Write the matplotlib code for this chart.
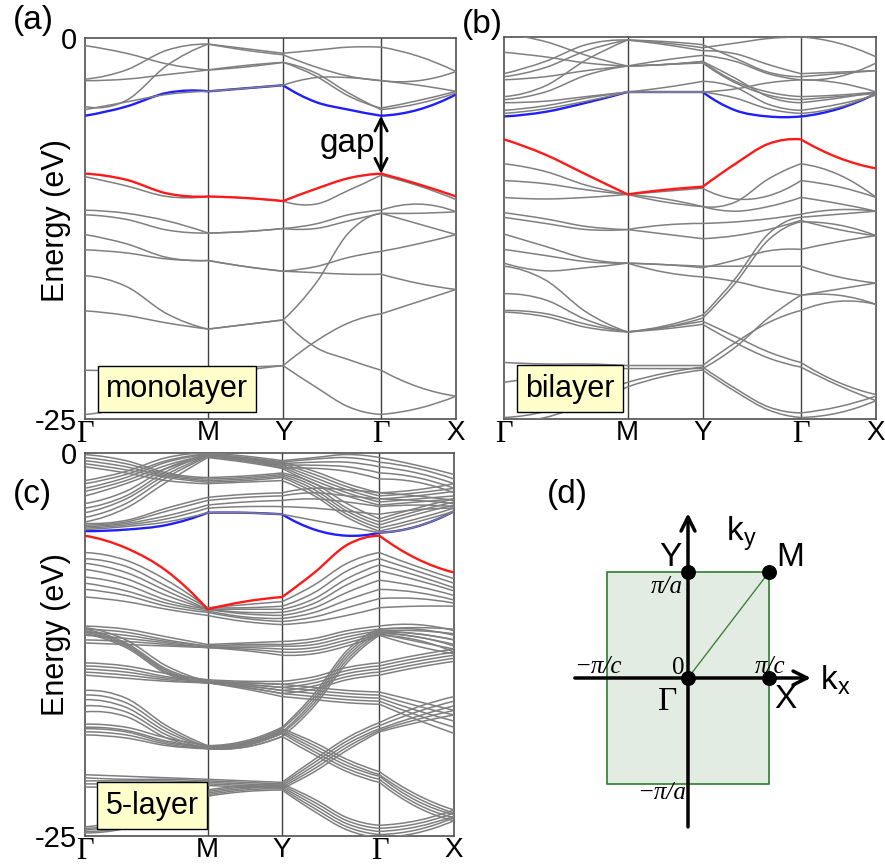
import numpy as np
import matplotlib
matplotlib.use('Agg')
import matplotlib.pyplot as plt
from matplotlib.path import Path
from matplotlib.patches import PathPatch, Rectangle

plt.rcParams['font.family'] = ['Liberation Sans', 'DejaVu Sans']

# k path: sample points along Γ-M-Y-Γ-X (high symmetry points at node_index)
k_points = [0.0, 0.111, 0.221, 0.332, 0.433, 0.534, 0.622, 0.710, 0.798, 0.899, 1.0]
node_index = [0, 3, 5, 8, 10]
k_labels = ['Γ', 'M', 'Y', 'Γ', 'X']

# ---- (a) monolayer, energies in eV at k_points ----
mono_gray = [
    [-0.5, -1.0, -1.7, -2.1, -1.9, -1.6, -2.5, -3.8, -4.6, -4.1, -3.5],
    [-2.7, -2.1, -0.8, -0.4, -0.7, -1.0, -0.8, -0.6, -0.6, -1.2, -2.2],
    [-2.8, -2.7, -2.4, -2.1, -1.8, -1.6, -2.3, -3.6, -4.7, -4.3, -3.6],
    [-4.5, -4.1, -1.8, -0.4, -0.8, -1.1, -1.9, -2.5, -2.8, -2.8, -2.2],
    [-4.7, -4.2, -3.7, -3.5, -3.3, -3.1, -2.6, -2.6, -2.8, -3.1, -3.5],
    [-9.1, -9.7, -10.4, -10.4, -10.5, -10.7, -10.9, -10.0, -9.0, -9.7, -10.6],
    [-11.3, -11.5, -12.0, -12.8, -12.7, -12.5, -12.2, -11.6, -11.3, -10.9, -11.4],
    [-11.6, -11.9, -12.6, -12.8, -12.7, -12.5, -12.5, -12.0, -11.5, -12.2, -12.9],
    [-12.9, -13.5, -14.4, -14.6, -15.0, -15.3, -15.4, -15.5, -15.5, -16.1, -16.5],
    [-13.9, -14.1, -14.5, -14.6, -15.0, -15.3, -15.0, -14.4, -14.0, -13.5, -12.9],
    [-15.6, -16.3, -18.1, -19.1, -18.8, -18.5, -16.1, -12.8, -11.5, -11.5, -11.4],
    [-17.9, -18.2, -18.7, -19.1, -18.8, -18.5, -20.3, -21.1, -21.8, -22.9, -23.5],
    [-21.8, -21.8, -21.7, -21.7, -21.6, -21.5, -19.9, -18.7, -18.1, -17.3, -16.5],
    [-24.7, -24.2, -23.1, -22.2, -21.8, -21.5, -22.9, -24.2, -24.7, -24.3, -23.5],
]
mono_blue = [-5.1, -4.5, -3.6, -3.5, -3.3, -3.1, -4.2, -4.7, -5.1, -4.7, -3.7]
mono_red = [-8.9, -9.3, -10.2, -10.4, -10.5, -10.7, -9.9, -9.2, -8.9, -9.6, -10.4]

# ---- (b) bilayer ----
bi_gray = [
    [0.2, -0.3, -1.2, -1.9, -1.8, -1.6, -2.9, -3.6, -3.9, -3.8, -3.6],
    [-1.0, -1.3, -1.7, -1.9, -1.8, -1.7, -3.0, -3.8, -4.1, -3.9, -3.7],
    [-2.4, -1.6, -0.5, -0.2, -0.4, -0.7, -0.4, -0.1, 0.0, -0.4, -1.3],
    [-2.6, -2.0, -0.9, -0.2, -0.5, -0.9, -1.1, -1.8, -2.4, -2.3, -2.2],
    [-2.8, -2.6, -2.2, -1.9, -1.8, -1.6, -2.7, -3.9, -4.3, -4.0, -3.6],
    [-3.9, -3.2, -1.5, -0.2, -0.3, -0.5, -1.4, -2.3, -2.6, -2.4, -2.2],
    [-4.1, -3.6, -2.5, -1.9, -1.5, -1.2, -1.6, -2.4, -2.8, -2.6, -1.7],
    [-4.3, -4.2, -3.9, -3.6, -3.3, -2.9, -3.3, -4.4, -4.8, -4.4, -3.8],
    [-4.8, -4.5, -4.0, -3.6, -3.6, -3.6, -3.4, -3.0, -2.8, -3.0, -3.6],
    [-5.0, -4.7, -4.2, -3.6, -3.6, -3.6, -4.0, -4.7, -5.0, -4.6, -3.7],
    [-8.3, -8.8, -9.7, -10.3, -10.8, -11.1, -10.8, -9.3, -8.3, -9.0, -10.5],
    [-9.4, -9.6, -10.0, -10.3, -10.1, -9.9, -10.6, -10.4, -9.4, -9.8, -10.5],
    [-10.5, -10.6, -10.5, -10.3, -10.6, -11.1, -11.4, -11.1, -10.5, -10.9, -11.4],
    [-11.5, -11.9, -12.4, -12.6, -12.3, -12.2, -12.1, -11.9, -11.6, -11.3, -11.4],
    [-11.8, -12.2, -12.6, -12.6, -12.9, -13.2, -13.0, -12.6, -12.0, -12.6, -13.0],
    [-12.9, -13.7, -14.5, -14.8, -14.9, -15.0, -15.0, -15.0, -15.0, -15.7, -16.1],
    [-13.9, -14.3, -14.7, -14.8, -14.9, -15.1, -14.6, -14.0, -13.9, -13.4, -13.0],
    [-14.8, -15.3, -15.1, -14.8, -15.4, -15.7, -16.0, -16.5, -16.9, -16.9, -17.5],
    [-15.0, -15.9, -18.0, -19.3, -18.9, -18.2, -15.8, -12.9, -11.8, -11.6, -11.4],
    [-16.8, -17.2, -18.5, -19.3, -19.0, -18.4, -16.1, -13.3, -12.1, -12.3, -13.0],
    [-17.9, -18.1, -18.8, -19.3, -19.0, -18.6, -19.6, -20.6, -21.3, -22.6, -23.4],
    [-18.0, -18.3, -19.0, -19.3, -19.1, -18.8, -20.0, -21.0, -21.6, -22.8, -23.8],
    [-21.3, -21.4, -21.4, -21.5, -21.5, -21.5, -20.0, -18.7, -17.9, -17.3, -17.5],
    [-22.6, -22.2, -21.8, -21.7, -21.7, -21.7, -20.3, -18.4, -16.9, -16.5, -16.1],
    [-24.9, -24.5, -23.5, -22.6, -22.0, -21.6, -23.0, -24.2, -24.6, -24.2, -23.5],
    [-25.2, -24.9, -24.0, -22.9, -22.2, -21.8, -23.2, -24.4, -24.9, -24.6, -23.8],
]
bi_blue = [-5.2, -4.9, -4.3, -3.6, -3.6, -3.6, -4.8, -5.2, -5.2, -4.7, -3.7]
bi_red = [-6.7, -7.7, -9.0, -10.3, -10.0, -9.8, -8.3, -7.0, -6.7, -7.9, -8.6]

# ---- (c) 5-layer, bands come in bundles ----
five_top_a = [
    [-0.1, -0.5, -1.3, -1.6, -1.5, -1.3, -2.0, -3.3, -4.3, -3.6, -3.0],
    [-0.3, -0.7, -1.4, -1.7, -1.6, -1.4, -2.2, -3.6, -4.5, -3.8, -3.2],
    [-0.5, -0.9, -1.5, -1.8, -1.7, -1.5, -2.4, -3.8, -4.7, -4.0, -3.4],
    [-0.7, -1.1, -1.6, -1.9, -1.8, -1.6, -2.6, -4.0, -4.9, -4.3, -3.6],
    [-0.9, -1.3, -1.8, -2.0, -1.9, -1.8, -2.8, -4.2, -5.1, -4.5, -3.8],
]
five_top_b = [
    [-1.8, -1.2, -0.3, 0.0, -0.2, -0.5, -0.3, -0.1, -0.3, -0.8, -1.4],
    [-2.0, -1.4, -0.5, -0.05, -0.3, -0.6, -0.4, -0.3, -0.6, -1.0, -1.7],
    [-2.3, -1.6, -0.6, -0.1, -0.35, -0.7, -0.6, -0.6, -0.9, -1.3, -2.0],
    [-2.5, -1.8, -0.8, -0.15, -0.4, -0.8, -0.8, -0.9, -1.3, -1.6, -2.3],
    [-2.8, -2.0, -1.0, -0.2, -0.5, -1.0, -1.0, -1.2, -1.7, -1.9, -2.6],
]
five_top_c = [
    [-3.3, -2.5, -1.0, -0.1, -0.3, -0.6, -1.2, -2.0, -2.6, -2.4, -2.0],
    [-3.6, -2.8, -1.2, -0.15, -0.4, -0.7, -1.4, -2.2, -2.8, -2.6, -2.3],
    [-3.9, -3.0, -1.4, -0.2, -0.5, -0.8, -1.6, -2.4, -3.0, -2.8, -2.5],
    [-4.2, -3.3, -1.6, -0.25, -0.5, -0.9, -1.8, -2.6, -3.2, -3.0, -2.8],
    [-4.5, -3.6, -1.9, -0.3, -0.6, -1.0, -2.0, -2.8, -3.4, -3.2, -3.0],
]
five_top_d = [
    [-4.6, -4.4, -3.6, -2.9, -2.7, -2.6, -2.3, -2.4, -2.6, -2.8, -3.1],
    [-4.7, -4.5, -3.8, -3.1, -2.9, -2.8, -2.6, -2.8, -3.0, -3.1, -3.3],
    [-4.8, -4.6, -4.1, -3.4, -3.2, -3.1, -3.0, -3.2, -3.5, -3.4, -3.5],
    [-4.9, -4.7, -4.3, -3.6, -3.5, -3.5, -3.6, -3.8, -4.0, -3.7, -3.6],
    [-5.0, -4.8, -4.5, -3.9, -3.9, -4.0, -4.4, -4.8, -5.2, -4.8, -3.8],
]
five_val = [
    [-6.5, -7.0, -8.3, -10.1, -9.9, -9.7, -8.6, -7.2, -6.5, -7.4, -8.2],
    [-6.9, -7.4, -8.7, -10.1, -10.1, -10.0, -9.1, -7.7, -6.9, -7.7, -8.5],
    [-7.2, -7.8, -9.0, -10.2, -10.2, -10.2, -9.5, -8.2, -7.3, -8.0, -8.8],
    [-7.6, -8.2, -9.3, -10.2, -10.4, -10.4, -9.8, -8.6, -7.7, -8.3, -9.0],
    [-8.1, -8.6, -9.6, -10.2, -10.5, -10.6, -10.1, -9.1, -8.3, -8.7, -9.3],
    [-8.5, -9.0, -9.8, -10.3, -10.7, -10.8, -10.4, -9.6, -8.9, -9.1, -9.6],
    [-8.9, -9.3, -10.0, -10.4, -10.8, -11.0, -10.7, -10.1, -9.5, -9.5, -9.8],
    [-9.4, -9.7, -10.2, -10.6, -11.0, -11.2, -11.0, -10.6, -10.1, -10.0, -10.0],
]
five_w = [
    [-11.3, -11.5, -12.0, -12.5, -12.4, -12.3, -12.1, -11.6, -11.3, -11.2, -11.6],
    [-11.5, -11.7, -12.2, -12.6, -12.5, -12.5, -12.3, -11.8, -11.5, -11.5, -11.9],
    [-11.7, -11.9, -12.3, -12.6, -12.6, -12.6, -12.5, -12.0, -11.6, -11.8, -12.2],
    [-11.9, -12.1, -12.4, -12.7, -12.7, -12.8, -12.7, -12.2, -11.7, -12.0, -12.5],
    [-12.2, -12.3, -12.5, -12.7, -12.8, -13.0, -12.9, -12.4, -11.8, -12.3, -12.8],
    [-12.4, -12.5, -12.6, -12.7, -12.9, -13.2, -13.1, -12.6, -11.9, -12.6, -13.1],
]
five_x = [
    [-11.4, -12.2, -13.9, -14.9, -15.0, -15.1, -15.3, -15.5, -15.6, -16.2, -16.8],
    [-11.5, -12.4, -14.1, -14.9, -15.1, -15.3, -15.5, -15.7, -15.8, -16.5, -17.1],
    [-11.6, -12.5, -14.2, -15.0, -15.2, -15.5, -15.7, -15.9, -16.0, -16.8, -17.5],
    [-11.7, -12.6, -14.3, -15.0, -15.3, -15.7, -15.9, -16.1, -16.2, -17.1, -17.9],
    [-11.8, -12.7, -14.4, -15.0, -15.4, -15.9, -16.1, -16.3, -16.4, -17.4, -18.3],
]
five_y = [
    [-13.7, -13.9, -14.4, -14.8, -14.9, -14.9, -14.6, -14.0, -13.7, -13.2, -12.8],
    [-13.9, -14.1, -14.6, -14.9, -15.0, -15.1, -14.8, -14.2, -13.9, -13.4, -13.0],
    [-14.1, -14.3, -14.7, -14.9, -15.1, -15.3, -15.0, -14.4, -14.1, -13.6, -13.2],
    [-14.3, -14.5, -14.8, -15.0, -15.2, -15.5, -15.2, -14.6, -14.3, -13.8, -13.4],
    [-14.5, -14.7, -14.9, -15.0, -15.3, -15.7, -15.4, -14.8, -14.5, -14.0, -13.6],
]
five_z = [
    [-15.5, -16.0, -17.8, -19.1, -18.8, -17.9, -15.7, -12.9, -11.5, -11.4, -11.5],
    [-15.8, -16.3, -18.0, -19.2, -18.9, -18.0, -15.9, -13.1, -11.6, -11.6, -11.8],
    [-16.1, -16.6, -18.2, -19.2, -19.0, -18.2, -16.1, -13.3, -11.7, -11.8, -12.2],
    [-16.5, -16.9, -18.4, -19.3, -19.1, -18.3, -16.3, -13.5, -11.8, -12.0, -12.6],
    [-16.9, -17.2, -18.6, -19.3, -19.2, -18.5, -16.5, -13.7, -11.9, -12.2, -13.0],
]
five_q = [
    [-17.7, -17.9, -18.6, -19.1, -18.9, -18.0, -18.9, -20.0, -20.8, -22.3, -23.3],
    [-17.9, -18.1, -18.8, -19.2, -19.0, -18.1, -19.1, -20.2, -21.0, -22.5, -23.5],
    [-18.0, -18.2, -18.9, -19.2, -19.0, -18.2, -19.3, -20.4, -21.1, -22.7, -23.6],
    [-18.2, -18.4, -19.0, -19.3, -19.1, -18.3, -19.5, -20.6, -21.3, -22.9, -23.8],
    [-18.4, -18.6, -19.1, -19.3, -19.2, -18.5, -19.7, -20.8, -21.5, -23.1, -24.0],
]
five_r = [
    [-21.0, -21.1, -21.2, -21.3, -21.4, -21.5, -20.0, -18.6, -17.6, -16.6, -15.9],
    [-21.2, -21.3, -21.3, -21.4, -21.5, -21.6, -20.2, -18.8, -17.8, -16.9, -16.2],
    [-21.4, -21.4, -21.4, -21.5, -21.6, -21.7, -20.4, -19.0, -18.0, -17.2, -16.5],
    [-21.6, -21.6, -21.6, -21.6, -21.7, -21.8, -20.6, -19.2, -18.1, -17.4, -16.8],
    [-21.8, -21.8, -21.7, -21.7, -21.8, -21.9, -20.8, -19.4, -18.2, -17.6, -17.1],
]
five_s = [
    [-24.4, -23.9, -22.8, -22.0, -21.7, -21.6, -22.6, -23.8, -24.3, -24.0, -23.3],
    [-24.5, -24.1, -23.0, -22.1, -21.8, -21.7, -22.8, -24.0, -24.5, -24.2, -23.5],
    [-24.6, -24.2, -23.2, -22.2, -21.9, -21.8, -23.0, -24.2, -24.7, -24.4, -23.7],
    [-24.7, -24.4, -23.4, -22.3, -22.0, -21.9, -23.2, -24.4, -24.9, -24.6, -23.8],
    [-24.8, -24.5, -23.6, -22.4, -22.1, -22.0, -23.4, -24.6, -25.1, -24.8, -24.0],
]
five_blue = [-5.1, -5.0, -4.7, -3.9, -3.9, -4.0, -5.0, -5.4, -5.2, -4.8, -3.8]
five_red = [-5.4, -6.2, -7.7, -10.2, -9.7, -9.4, -7.8, -6.0, -5.4, -6.9, -7.8]
five_gray = (five_top_a + five_top_b + five_top_c + five_top_d + five_val + five_w
             + five_x + five_y + five_z + five_q + five_r + five_s)

# ---- (d) Brillouin zone half widths (Γ-X = π/c, Γ-Y = π/a) ----
bz_half = (0.202, 0.264)


def band_path(e):
    # cubic curve through the points, broken at the high symmetry points
    verts = [(k_points[0], e[0])]
    codes = [Path.MOVETO]
    for s in range(len(node_index) - 1):
        i0, i1 = node_index[s], node_index[s + 1]
        ks = np.array(k_points[i0:i1 + 1])
        es = np.array(e[i0:i1 + 1], float)
        sec = np.diff(es) / np.diff(ks)
        m = np.zeros(len(ks))
        m[1:-1] = (es[2:] - es[:-2]) / (ks[2:] - ks[:-2])
        m[0] = 2 * sec[0] - m[1]
        m[-1] = 2 * sec[-1] - m[-2]
        for j in range(len(ks) - 1):
            h = ks[j + 1] - ks[j]
            verts += [(ks[j] + h / 3, es[j] + m[j] * h / 3),
                      (ks[j + 1] - h / 3, es[j + 1] - m[j + 1] * h / 3),
                      (ks[j + 1], es[j + 1])]
            codes += [Path.CURVE4] * 3
    return Path(verts, codes)


def band_panel(ax, gray, blue, red, label, yticks=True):
    ax.set_xlim(0, 1)
    ax.set_ylim(-25, 0)
    for kx in [k_points[i] for i in node_index[1:-1]]:
        ax.axvline(kx, color='#404040', lw=1.0, zorder=1)
    ax.add_patch(PathPatch(band_path(blue), fill=False, ec='#1f1fff', lw=1.7, zorder=2))
    for e in gray:
        ax.add_patch(PathPatch(band_path(e), fill=False, ec='#7f7f7f', lw=1.1, zorder=3))
    ax.add_patch(PathPatch(band_path(red), fill=False, ec='#ff1a1a', lw=1.7, zorder=4))
    ax.set_xticks([k_points[i] for i in node_index])
    ax.set_xticklabels(k_labels, fontsize=20)
    for t in ax.get_xticklabels():
        if t.get_text() == 'Γ':
            t.set_family('Liberation Serif')
            t.set_fontsize(22)
    if yticks:
        ax.set_yticks([0, -25])
        ax.set_yticklabels(['0', '-25'], fontsize=21)
        ax.set_ylabel('Energy (eV)', fontsize=22)
    else:
        ax.set_yticks([])
    ax.tick_params(axis='x', length=0, pad=0.5)
    ax.tick_params(axis='y', length=0, pad=6)
    for sp in ax.spines.values():
        sp.set_color('#505050')
        sp.set_linewidth(1.2)
    ax.text(0.056, 0.04, label, transform=ax.transAxes, fontsize=22, ha='left', va='bottom',
            zorder=10, bbox=dict(boxstyle='square,pad=0.27', fc='#ffffcc', ec='black', lw=1.0))


fig = plt.figure(figsize=(8.85, 8.65), dpi=100)
W, H = 885.0, 865.0

ax_a = fig.add_axes([85 / W, 1 - 419 / H, 371 / W, 381 / H])
band_panel(ax_a, mono_gray, mono_blue, mono_red, 'monolayer')
ax_a.yaxis.set_label_coords(-0.038, 0.52)
ax_a.annotate('', xy=(k_points[8], mono_blue[8]), xytext=(k_points[8], mono_red[8]),
              arrowprops=dict(arrowstyle='<->', lw=2.0, color='black', mutation_scale=22,
                              shrinkA=0, shrinkB=0), zorder=6)
ax_a.text(0.782, -7.5, 'gap', fontsize=24, ha='right', va='baseline', zorder=6)

ax_b = fig.add_axes([504 / W, 1 - 419 / H, 372 / W, 382 / H])
band_panel(ax_b, bi_gray, bi_blue, bi_red, 'bilayer', yticks=False)

ax_c = fig.add_axes([85 / W, 1 - 836 / H, 369 / W, 383 / H])
band_panel(ax_c, five_gray, five_blue, five_red, '5-layer')
ax_c.yaxis.set_label_coords(-0.038, 0.525)

# ---- (d) Brillouin zone ----
ax_d = fig.add_axes([540 / W, 0, 345 / W, 395 / H])
ax_d.set_xlim(-148 / 400, 197 / 400)
ax_d.set_ylim(-187 / 400, 208 / 400)
ax_d.axis('off')
hx, hy = bz_half
ax_d.add_patch(Rectangle((-hx, -hy), 2 * hx, 2 * hy, fc='#e3ece3', ec='#2e7d2e', lw=1.2, zorder=1))
ax_d.plot([0, hx], [0, hy], color='#3f7f3f', lw=1.0, zorder=2)
ax_d.annotate('', xy=(1.52 * hx, 0), xytext=(-1.40 * hx, 0),
              arrowprops=dict(arrowstyle='->', lw=2.5, color='black', mutation_scale=25,
                              shrinkA=0, shrinkB=0), zorder=3)
ax_d.annotate('', xy=(0, 1.56 * hy), xytext=(0, -1.41 * hy),
              arrowprops=dict(arrowstyle='->', lw=2.5, color='black', mutation_scale=25,
                              shrinkA=0, shrinkB=0), zorder=3)
ax_d.scatter([0, hx, 0, hx], [0, 0, hy, hy], s=95, color='black', zorder=5)
ax_d.text(-0.045, 0.30, 'Y', fontsize=24, ha='center', va='center')
ax_d.text(0.255, 0.30, 'M', fontsize=24, ha='center', va='center')
ax_d.text(0.095, 0.36, 'k$_\\mathregular{y}$', fontsize=24, ha='left', va='center')
ax_d.text(0.33, -0.005, 'k$_\\mathregular{x}$', fontsize=24, ha='left', va='center')
ax_d.text(0.2425, -0.055, 'X', fontsize=24, ha='center', va='center')
ax_d.text(-0.05, -0.06, 'Γ', fontsize=24, ha='center', va='center', family='Liberation Serif')
serif_it = dict(family='Liberation Serif', style='italic', fontsize=18, ha='center', va='center')
ax_d.text(-0.0525, 0.2275, 'π/a', **serif_it)
ax_d.text(-0.225, 0.0275, '−π/c', **serif_it)
ax_d.text(0.205, 0.0275, 'π/c', **serif_it)
ax_d.text(-0.065, -0.2875, '−π/a', **serif_it)
ax_d.text(-0.025, 0.025, '0', family='Liberation Serif', fontsize=18, ha='center', va='center')

# panel letters
for txt, px, py in [('(a)', 33, 20), ('(b)', 482, 24), ('(c)', 32, 495), ('(d)', 567, 494)]:
    fig.text(px / W, 1 - py / H, txt, fontsize=24, ha='center', va='center')

fig.savefig('out.png', dpi=100)
